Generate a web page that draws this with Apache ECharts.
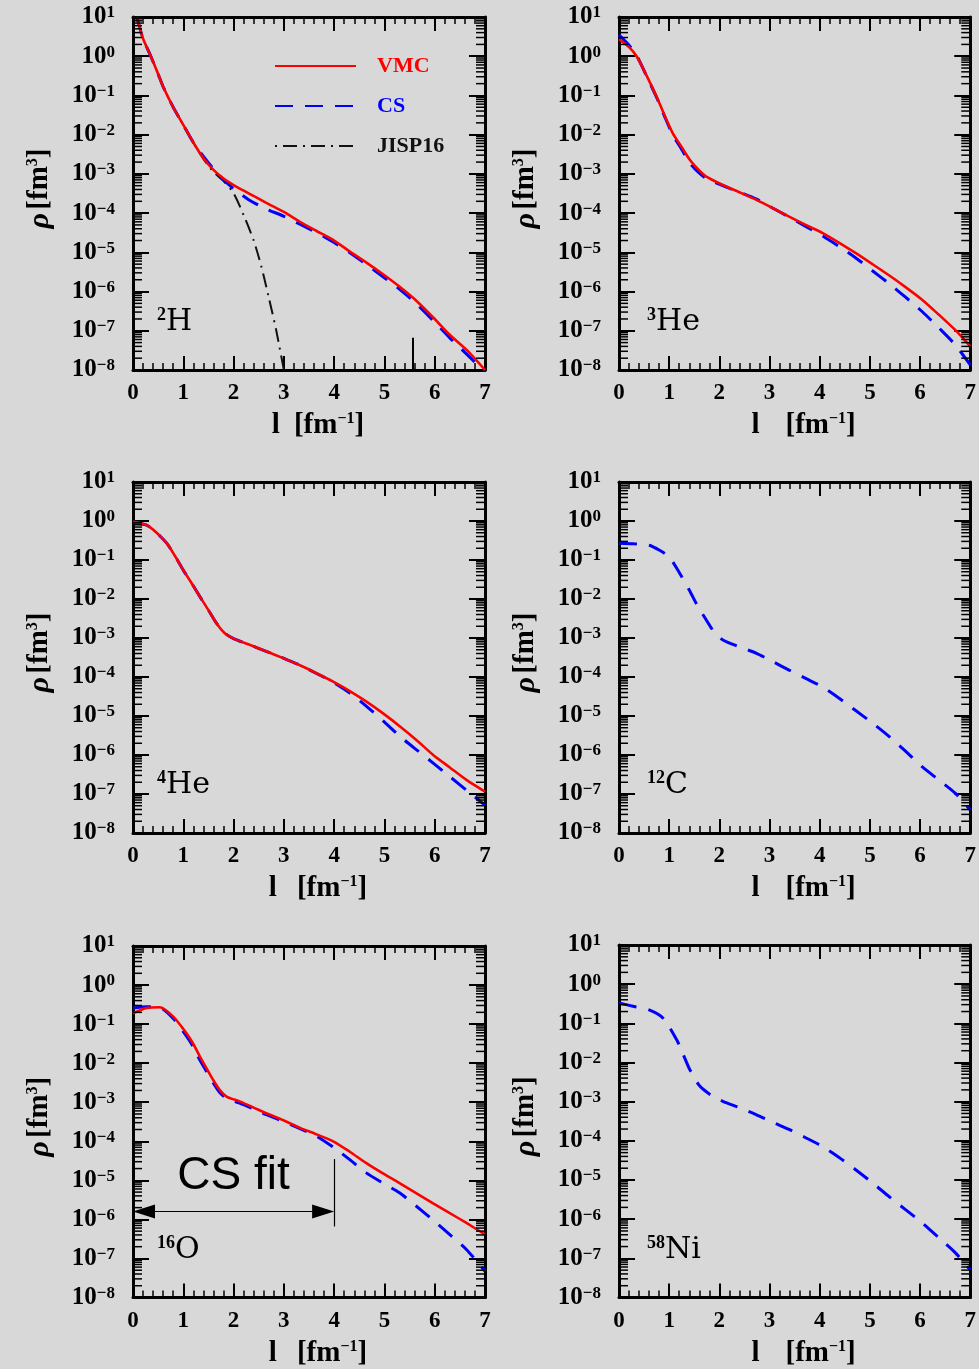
<!DOCTYPE html>
<html>
<head>
<meta charset="utf-8">
<script src="https://cdn.jsdelivr.net/npm/echarts@6/dist/echarts.min.js"></script>
<style>
  html, body { margin: 0; padding: 0; background: #d8d8d8; }
  #chart { width: 979px; height: 1369px; }
</style>
</head>
<body>
<div id="chart"></div>
<script>
// Momentum distributions rho(l) [fm^3] vs l [fm^-1] for six nuclei.
// Each curve is a list of [l, rho] pairs.

const H2_VMC = [[0.08, 9.5], [0.2, 2.8], [0.34, 1.1], [0.5, 0.35], [0.6, 0.166], [0.8, 0.05], [1.0, 0.0178],
  [1.2, 6.3e-3], [1.4, 2.5e-3], [1.6, 1.26e-3], [1.8, 7.6e-4], [2.0, 5.2e-4], [2.3, 3.2e-4], [2.66, 1.8e-4],
  [3.0, 1.07e-4], [3.32, 6.0e-5], [3.65, 3.5e-5], [4.0, 2.0e-5], [4.3, 1.07e-5], [4.65, 5.4e-6], [5.0, 2.6e-6],
  [5.31, 1.3e-6], [5.65, 5.6e-7], [6.0, 2.0e-7], [6.3, 7.9e-8], [6.64, 3.2e-8], [7.0, 1.0e-8]];
const H2_CS = [[0.08, 9.5], [0.2, 2.8], [0.34, 1.1], [0.5, 0.35], [0.6, 0.166], [0.8, 0.05], [1.0, 0.0178],
  [1.2, 6.3e-3], [1.4, 2.8e-3], [1.6, 1.35e-3], [1.8, 7.1e-4], [2.0, 4.2e-4], [2.3, 2.2e-4], [2.66, 1.26e-4],
  [3.0, 8.3e-5], [3.32, 5.2e-5], [3.65, 3.2e-5], [4.0, 1.78e-5], [4.3, 1.0e-5], [4.65, 4.8e-6], [5.0, 2.24e-6],
  [5.31, 1.12e-6], [5.65, 4.7e-7], [6.0, 1.66e-7], [6.3, 6.6e-8], [6.64, 2.5e-8], [7.0, 8.9e-9]];
const H2_JISP16 = [[0.08, 9.5], [0.2, 2.8], [0.34, 1.1], [0.5, 0.35], [0.6, 0.166], [0.8, 0.05], [1.0, 0.0178],
  [1.2, 6.3e-3], [1.4, 2.4e-3], [1.6, 1.12e-3], [1.8, 6.6e-4], [2.0, 3.2e-4], [2.2, 8.9e-5], [2.4, 2.0e-5],
  [2.55, 4.5e-6], [2.7, 7.1e-7], [2.85, 1.0e-7], [3.0, 1.0e-8]];

const HE3_VMC = [[0.0, 2.7], [0.2, 1.7], [0.35, 1.0], [0.55, 0.32], [0.75, 0.093], [0.9, 0.033], [1.07, 0.011],
  [1.25, 4.8e-3], [1.41, 2.3e-3], [1.58, 1.3e-3], [1.74, 8.5e-4], [2.07, 5.2e-4], [2.4, 3.4e-4], [2.73, 2.2e-4],
  [3.06, 1.35e-4], [3.39, 8.1e-5], [3.72, 5.0e-5], [4.06, 3.1e-5], [4.39, 1.75e-5], [4.72, 9.5e-6],
  [5.05, 5.0e-6], [5.38, 2.6e-6], [5.71, 1.3e-6], [6.04, 6.2e-7], [6.37, 2.6e-7], [6.7, 1.05e-7], [7.0, 4.0e-8]];
const HE3_CS = [[0.0, 3.5], [0.2, 1.9], [0.35, 1.05], [0.55, 0.31], [0.75, 0.089], [0.9, 0.031], [1.07, 0.01],
  [1.25, 4.2e-3], [1.41, 1.9e-3], [1.58, 1.1e-3], [1.74, 7.6e-4], [2.07, 5.0e-4], [2.4, 3.4e-4], [2.73, 2.3e-4],
  [3.06, 1.35e-4], [3.39, 7.9e-5], [3.72, 4.6e-5], [4.06, 2.6e-5], [4.39, 1.4e-5], [4.72, 7.2e-6],
  [5.05, 3.4e-6], [5.38, 1.6e-6], [5.71, 7.2e-7], [6.04, 3.1e-7], [6.37, 1.2e-7], [6.7, 4.4e-8], [7.0, 1.35e-8]];

const HE4_VMC = [[0.0, 0.95], [0.27, 0.79], [0.47, 0.5], [0.67, 0.27], [0.83, 0.13], [1.0, 0.055],
  [1.17, 0.025], [1.33, 0.0115], [1.5, 5.2e-3], [1.66, 2.4e-3], [1.82, 1.35e-3], [1.99, 9.8e-4],
  [2.33, 6.6e-4], [2.66, 4.5e-4], [3.0, 3.0e-4], [3.32, 2.0e-4], [3.65, 1.25e-4], [3.98, 7.6e-5],
  [4.32, 4.3e-5], [4.65, 2.3e-5], [4.98, 1.15e-5], [5.31, 5.4e-6], [5.64, 2.4e-6], [5.97, 1.0e-6],
  [6.3, 4.8e-7], [6.63, 2.3e-7], [7.0, 1.15e-7]];
const HE4_CS = [[0.0, 0.9], [0.27, 0.78], [0.47, 0.5], [0.67, 0.27], [0.83, 0.13], [1.0, 0.055],
  [1.17, 0.025], [1.33, 0.0115], [1.5, 5.2e-3], [1.66, 2.4e-3], [1.82, 1.35e-3], [1.99, 9.8e-4],
  [2.33, 6.6e-4], [2.66, 4.5e-4], [3.0, 3.0e-4], [3.32, 2.0e-4], [3.65, 1.23e-4], [3.98, 7.4e-5],
  [4.32, 3.8e-5], [4.65, 1.74e-5], [4.98, 7.4e-6], [5.31, 3.0e-6], [5.64, 1.35e-6], [5.97, 6.2e-7],
  [6.3, 2.8e-7], [6.63, 1.26e-7], [7.0, 5.2e-8]];

const C12_CS = [[0.0, 0.27], [0.3, 0.26], [0.6, 0.24], [0.8, 0.18], [1.0, 0.12], [1.2, 0.048], [1.4, 0.017],
  [1.57, 6.5e-3], [1.74, 2.9e-3], [1.9, 1.4e-3], [2.07, 8.9e-4], [2.4, 5.9e-4], [2.73, 4.1e-4],
  [3.06, 2.5e-4], [3.39, 1.5e-4], [3.72, 9.2e-5], [4.05, 5.6e-5], [4.38, 2.9e-5], [4.71, 1.4e-5],
  [5.05, 6.6e-6], [5.38, 3.0e-6], [5.71, 1.25e-6], [6.04, 5.0e-7], [6.37, 2.3e-7], [6.7, 1.05e-7], [7.0, 3.9e-8]];

const O16_VMC = [[0.0, 0.19], [0.27, 0.26], [0.53, 0.27], [0.8, 0.155], [1.06, 0.059], [1.2, 0.031], [1.33, 0.0148],
  [1.46, 7.5e-3], [1.59, 3.8e-3], [1.72, 2.1e-3], [1.86, 1.4e-3], [2.12, 1.05e-3], [2.39, 7.4e-4],
  [2.65, 5.2e-4], [3.0, 3.4e-4], [3.32, 2.2e-4], [3.65, 1.5e-4], [3.98, 1.0e-4], [4.31, 5.4e-5],
  [4.64, 2.75e-5], [4.97, 1.5e-5], [5.3, 8.5e-6], [5.63, 4.7e-6], [5.96, 2.6e-6], [6.3, 1.45e-6],
  [6.63, 8.1e-7], [7.0, 4.1e-7]];
const O16_CS = [[0.0, 0.26], [0.27, 0.28], [0.53, 0.27], [0.8, 0.14], [1.06, 0.05], [1.2, 0.026], [1.33, 0.012],
  [1.46, 6.2e-3], [1.59, 3.2e-3], [1.72, 1.8e-3], [1.86, 1.26e-3], [2.12, 9.5e-4], [2.39, 6.8e-4],
  [2.65, 4.8e-4], [3.0, 3.2e-4], [3.32, 2.1e-4], [3.65, 1.35e-4], [4.0, 6.8e-5], [4.31, 3.4e-5],
  [4.64, 1.55e-5], [4.97, 8.5e-6], [5.3, 4.8e-6], [5.63, 2.2e-6], [5.96, 9.8e-7], [6.3, 4.1e-7],
  [6.63, 1.7e-7], [7.0, 4.7e-8]];

const NI58_CS = [[0.0, 0.33], [0.3, 0.27], [0.6, 0.22], [0.88, 0.135], [1.15, 0.038], [1.28, 0.016],
  [1.41, 6.6e-3], [1.61, 2.5e-3], [1.84, 1.45e-3], [2.07, 1.02e-3], [2.4, 7.0e-4], [2.73, 4.7e-4],
  [3.06, 3.0e-4], [3.39, 1.95e-4], [3.72, 1.2e-4], [4.05, 7.2e-5], [4.38, 3.8e-5], [4.71, 1.86e-5],
  [5.05, 8.5e-6], [5.38, 3.8e-6], [5.71, 1.75e-6], [6.04, 8.1e-7], [6.37, 3.4e-7], [6.7, 1.4e-7], [7.0, 5.1e-8]];

// Fit range of the CS parametrisation for 16O (l from 0 to 4 fm^-1)
const CS_FIT_RANGE = [0, 4];
const CS_FIT_RHO = 1.6e-6;
const CS_FIT_BAR = [3.5e-5, 6.6e-7];

// Axis ranges and log minor-tick mantissas
const L_MIN = 0, L_MAX = 7;
const RHO_MIN = 1e-8, RHO_MAX = 10;
const DECADES = [-8, -7, -6, -5, -4, -3, -2, -1, 0];
const MANTISSAS = [2, 3, 4, 5, 6, 7, 8, 9];

const NUCLEI = [
  { mass: '2', sym: 'H', curves: { VMC: H2_VMC, CS: H2_CS, JISP16: H2_JISP16 } },
  { mass: '3', sym: 'He', curves: { VMC: HE3_VMC, CS: HE3_CS } },
  { mass: '4', sym: 'He', curves: { VMC: HE4_VMC, CS: HE4_CS } },
  { mass: '12', sym: 'C', curves: { CS: C12_CS } },
  { mass: '16', sym: 'O', curves: { VMC: O16_VMC, CS: O16_CS } },
  { mass: '58', sym: 'Ni', curves: { CS: NI58_CS } }
];

// Plot boxes (pixels)
const BOXES = [
  { left: 133, top: 17, width: 352, height: 353 },
  { left: 619, top: 17, width: 353, height: 353 },
  { left: 133, top: 482, width: 352, height: 351 },
  { left: 619, top: 482, width: 353, height: 351 },
  { left: 133, top: 946, width: 352, height: 352 },
  { left: 619, top: 945, width: 353, height: 353 }
];
const XTITLE_GAP = [14, 26, 20, 26, 20, 26];
const LABEL_INSET = [24, 28, 24, 28, 24, 28];

const SERIF = 'Liberation Serif';
const STYLES = {
  VMC: { color: '#ff0000', width: 2.6, type: 'solid', z: 4 },
  CS: { color: '#0000ff', width: 3, type: [18, 12], z: 3 },
  JISP16: { color: '#111111', width: 2, type: [2, 6, 14, 6], z: 2 }
};

const minorRho = [];
DECADES.forEach(function (d) {
  MANTISSAS.forEach(function (m) { minorRho.push([L_MIN, m * Math.pow(10, d)]); });
});

const grids = [], xAxes = [], yAxes = [], series = [], graphics = [];

function yLabel(v) {
  const e = Math.round(Math.log10(v));
  return '{b|10}{s|' + (e < 0 ? '\u2212' + (-e) : String(e)) + '}';
}

NUCLEI.forEach(function (nuc, i) {
  const box = BOXES[i];
  grids.push({ left: box.left, top: box.top, width: box.width, height: box.height, containLabel: false });

  const xCommon = {
    type: 'value', gridIndex: i, min: L_MIN, max: L_MAX, interval: 1,
    axisLine: { show: true, onZero: false, lineStyle: { color: '#000', width: 3 } },
    axisTick: { show: true, inside: true, length: 14, lineStyle: { color: '#000', width: 2 } },
    minorTick: { show: true, splitNumber: 5, length: 7, lineStyle: { color: '#000', width: 1.5 } },
    splitLine: { show: false }
  };
  xAxes.push(Object.assign({}, xCommon, {
    position: 'bottom',
    axisLabel: { show: true, margin: 12, color: '#000', fontFamily: SERIF, fontWeight: 'bold', fontSize: 23 },
    name: '{t|l}{g|}{t|[fm}{s|\u22121}{t|]}',
    nameLocation: 'middle', nameGap: 41,
    nameTextStyle: {
      color: '#000', padding: [0, 0, 0, 18],
      rich: {
        t: { fontFamily: SERIF, fontWeight: 'bold', fontSize: 29, color: '#000', lineHeight: 30 },
        g: { width: XTITLE_GAP[i] },
        s: { fontFamily: SERIF, fontWeight: 'bold', fontSize: 16, color: '#000', verticalAlign: 'top', lineHeight: 18 }
      }
    }
  }));
  xAxes.push(Object.assign({}, xCommon, { position: 'top', axisLabel: { show: false } }));

  const yCommon = {
    type: 'log', logBase: 10, gridIndex: i, min: RHO_MIN, max: RHO_MAX, splitNumber: 9,
    axisLine: { show: true, onZero: false, lineStyle: { color: '#000', width: 3 } },
    axisTick: { show: true, inside: true, length: 16, lineStyle: { color: '#000', width: 2 } },
    splitLine: { show: false }
  };
  yAxes.push(Object.assign({}, yCommon, {
    position: 'left',
    axisLabel: {
      show: true, margin: 18, formatter: yLabel,
      rich: {
        b: { fontFamily: SERIF, fontWeight: 'bold', fontSize: 25, color: '#000', lineHeight: 25 },
        s: { fontFamily: SERIF, fontWeight: 'bold', fontSize: 17, color: '#000', verticalAlign: 'top', lineHeight: 16 }
      }
    },
    name: '{r|\u03c1} {t|[fm}{s|3}{t|]}',
    nameLocation: 'middle', nameGap: 78,
    nameTextStyle: {
      color: '#000', padding: [0, 0, 0, 10],
      rich: {
        r: { fontFamily: SERIF, fontStyle: 'italic', fontWeight: 'bold', fontSize: 30, color: '#000', lineHeight: 30 },
        t: { fontFamily: SERIF, fontWeight: 'bold', fontSize: 29, color: '#000', lineHeight: 30 },
        s: { fontFamily: SERIF, fontWeight: 'bold', fontSize: 16, color: '#000', verticalAlign: 'top', lineHeight: 18 }
      }
    }
  }));
  yAxes.push(Object.assign({}, yCommon, { position: 'right', axisLabel: { show: false } }));

  // curves: CS below VMC, JISP16 at the bottom
  ['JISP16', 'CS', 'VMC'].forEach(function (key) {
    const pts = nuc.curves[key];
    if (!pts) return;
    const st = STYLES[key];
    series.push({
      name: key, type: 'line', xAxisIndex: 2 * i, yAxisIndex: 2 * i,
      data: pts, showSymbol: false, symbol: 'none', smooth: 0.25,
      clip: true, z: st.z, silent: true, animation: false,
      itemStyle: { color: st.color },
      lineStyle: { color: st.color, width: st.width, type: st.type, cap: 'butt' }
    });
  });

  // logarithmic minor ticks on left and right frame
  series.push({
    type: 'custom', xAxisIndex: 2 * i, yAxisIndex: 2 * i, silent: true, clip: false,
    animation: false, z: 5, data: minorRho,
    renderItem: function (params, api) {
      const v = api.value(1);
      const a = api.coord([L_MIN, v]);
      const b = api.coord([L_MAX, v]);
      return {
        type: 'group', children: [
          { type: 'line', shape: { x1: a[0], y1: a[1], x2: a[0] + 9, y2: a[1] }, style: { stroke: '#000', lineWidth: 1.5 } },
          { type: 'line', shape: { x1: b[0] - 9, y1: b[1], x2: b[0], y2: b[1] }, style: { stroke: '#000', lineWidth: 1.5 } }
        ]
      };
    }
  });

  // nucleus label
  graphics.push({
    type: 'text', left: box.left + LABEL_INSET[i], top: box.top + box.height - 64,
    style: {
      text: '{m|' + nuc.mass + '}{s|' + nuc.sym + '}',
      rich: {
        m: { fontFamily: SERIF, fontWeight: 'bold', fontSize: 18, fill: '#000', verticalAlign: 'top', lineHeight: 20 },
        s: { fontFamily: 'DejaVu Serif', fontSize: 30, fill: '#000', lineHeight: 32 }
      }
    }
  });
});

// a short marker line at the foot of the 2H panel
series.push({
  name: 'marker', type: 'line', xAxisIndex: 0, yAxisIndex: 0, data: [], silent: true, animation: false,
  markLine: {
    silent: true, animation: false, symbol: 'none', label: { show: false },
    lineStyle: { color: '#000', width: 2, type: 'solid' },
    data: [[{ coord: [5.57, 1e-8] }, { coord: [5.57, 6.6e-8] }]]
  }
});

// CS fit range arrow for 16O; arrowheads are centred on the line ends, so the
// ends are pulled in by half a head so that the tips land on l = 0 and l = 4
const ARROW_HEAD = 22;
const headHalf = (ARROW_HEAD / 2) * (L_MAX - L_MIN) / BOXES[4].width;
series.push({
  name: 'CS fit', type: 'line', xAxisIndex: 8, yAxisIndex: 8, data: [], silent: true, animation: false,
  markLine: {
    silent: true, animation: false,
    symbol: ['triangle', 'triangle'], symbolSize: [14, ARROW_HEAD],
    lineStyle: { color: '#000', width: 1.2, type: 'solid' },
    itemStyle: { color: '#000' },
    data: [
      [
        { coord: [CS_FIT_RANGE[0] + headHalf, CS_FIT_RHO],
          label: { show: true, formatter: 'CS fit', position: 'middle', distance: 12,
            fontFamily: 'Liberation Sans', fontSize: 46, color: '#000' } },
        { coord: [CS_FIT_RANGE[1] - headHalf, CS_FIT_RHO] }
      ],
      [
        { coord: [CS_FIT_RANGE[1], CS_FIT_BAR[0]], symbol: 'none', label: { show: false } },
        { coord: [CS_FIT_RANGE[1], CS_FIT_BAR[1]], symbol: 'none', label: { show: false } }
      ]
    ]
  }
});

const chart = echarts.init(document.getElementById('chart'), null, { renderer: 'canvas' });
chart.setOption({
  backgroundColor: '#d8d8d8',
  animation: false,
  grid: grids,
  xAxis: xAxes,
  yAxis: yAxes,
  legend: {
    orient: 'vertical', left: 269, top: 50,
    itemWidth: 81, itemHeight: 14, itemGap: 18, selectedMode: false,
    itemStyle: { opacity: 0 },
    data: [
      { name: 'VMC', textStyle: { color: '#ff0000' } },
      { name: 'CS', textStyle: { color: '#0000ff' } },
      { name: 'JISP16', textStyle: { color: '#111111' } }
    ],
    textStyle: { fontFamily: SERIF, fontWeight: 'bold', fontSize: 22, padding: [0, 0, 0, 16] }
  },
  graphic: graphics,
  series: series
});
</script>
</body>
</html>
